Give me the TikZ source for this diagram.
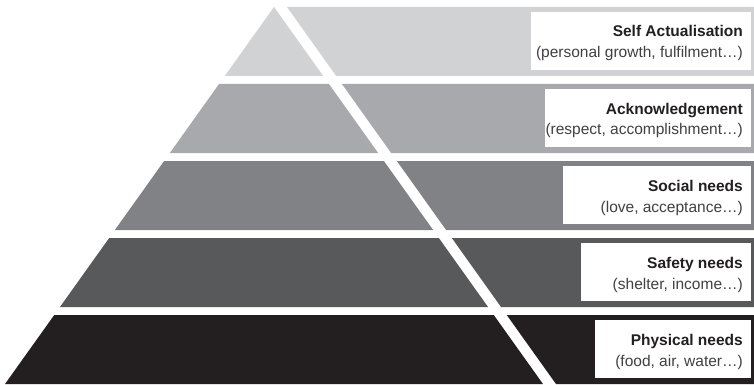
\documentclass[tikz,border=0pt]{standalone}
\usepackage{fontspec}
\setmainfont{Liberation Sans}
\definecolor{bandA}{HTML}{D1D2D4}
\definecolor{bandB}{HTML}{A7A9AC}
\definecolor{bandC}{HTML}{808285}
\definecolor{bandD}{HTML}{58595B}
\definecolor{bandE}{HTML}{231F20}
\definecolor{titlecol}{HTML}{231F20}
\definecolor{subcol}{HTML}{414042}
\tikzset{
  labelbox/.style={fill=white, draw=none, inner sep=0pt, minimum height=58, anchor=north west},
  titletext/.style={inner sep=0pt, anchor=base east, text=titlecol, font=\bfseries\fontsize{15.5}{18}\selectfont},
  subtext/.style={inner sep=0pt, anchor=base east, text=subcol, font=\fontsize{15.5}{18}\selectfont}
}
\newcommand\pyrband[5]{%
  \pgfmathsetmacro\pyrbt{7+77*#1}%
  \pgfmathsetmacro\pyrbb{\pyrbt+69}%
  \pgfmathsetmacro\pyrxlt{274-0.7135*(\pyrbt-7)}%
  \pgfmathsetmacro\pyrxrt{274+0.7135*(\pyrbt-7)}%
  \pgfmathsetmacro\pyrxlb{274-0.7135*(\pyrbb-7)}%
  \pgfmathsetmacro\pyrxrb{274+0.7135*(\pyrbb-7)}%
  \fill[#2] (\pyrxlt,\pyrbt) -- (\pyrxrt,\pyrbt) -- (\pyrxrb,\pyrbb) -- (\pyrxlb,\pyrbb) -- cycle;
  \fill[#2] (\pyrxrt+13,\pyrbt) -- (754,\pyrbt) -- (754,\pyrbb) -- (\pyrxrb+13,\pyrbb) -- cycle;
  \node[labelbox, minimum width={751-#3}] (box#1) at (#3,\pyrbt+5) {};
  \node[titletext] (title#1) at (743,\pyrbt+30) {#4};
  \node[subtext] (sub#1) at (743,\pyrbt+51) {#5};
}
\begin{document}
\begin{tikzpicture}[x=1pt,y=-1pt]
\useasboundingbox[fill=white] (0,0) rectangle (754,385);
\pyrband{0}{bandA}{531}{Self Actualisation}{(personal growth, fulfilment…)}
\pyrband{1}{bandB}{545}{Acknowledgement}{(respect, accomplishment…)}
\pyrband{2}{bandC}{563}{Social needs}{(love, acceptance…)}
\pyrband{3}{bandD}{581}{Safety needs}{(shelter, income…)}
\pyrband{4}{bandE}{595}{Physical needs}{(food, air, water…)}
\end{tikzpicture}
\end{document}
